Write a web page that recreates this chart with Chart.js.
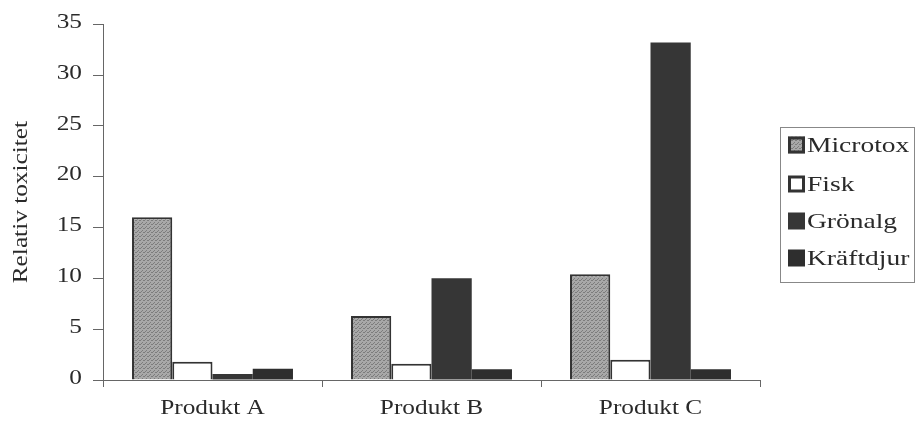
<!DOCTYPE html>
<html><head><meta charset="utf-8">
<script src="https://cdn.jsdelivr.net/npm/chart.js@4.4.0/dist/chart.umd.min.js"></script>
<style>html,body{margin:0;padding:0;background:#fff;}#wrap{width:915px;height:422px;}</style>
</head><body><div id="wrap"><canvas id="c" width="915" height="422"></canvas></div>
<script>
const categories = ["Produkt A", "Produkt B", "Produkt C"];
const microtox = [16.0, 6.3, 10.4];
const fisk = [1.8, 1.6, 2.0];
const gronalg = [0.6, 10.0, 33.2];
const kraftdjur = [1.1, 1.05, 1.05];
const seriesNames = ["Microtox", "Fisk", "Grönalg", "Kräftdjur"];
const yTicks = [0, 5, 10, 15, 20, 25, 30, 35];

const FONT = "'Liberation Serif', 'Times New Roman', serif";
const canvas = document.getElementById('c');
const ctx0 = canvas.getContext('2d');

// widen text horizontally like the reference typeface
let SX = 1.15;
const origFill = ctx0.fillText;
ctx0.fillText = function (t, x, y) {
  this.save();
  this.translate(x, y);
  this.scale(SX, 1);
  origFill.call(this, t, 0, 0);
  this.restore();
};

function stipple() {
  const p = document.createElement('canvas');
  p.width = 4; p.height = 4;
  const g = p.getContext('2d');
  g.fillStyle = '#a8a8a8'; g.fillRect(0, 0, 4, 4);
  g.fillStyle = '#7c7c7c';
  g.fillRect(0, 0, 1, 1); g.fillRect(2, 2, 1, 1); g.fillRect(3, 0, 1, 1); g.fillRect(1, 3, 1, 1);
  return ctx0.createPattern(p, 'repeat');
}
const pat = stipple();

const styles = [
  {bg: pat, border: '#333333', bw: 2},
  {bg: '#ffffff', border: '#333333', bw: 2},
  {bg: '#363636', border: '#363636', bw: 0},
  {bg: '#2e2e2e', border: '#2e2e2e', bw: 0}
];
const values = [microtox, fisk, gronalg, kraftdjur];

const legendPlugin = {
  id: 'boxLegend',
  afterDraw(chart) {
    const ctx = chart.ctx;
    const x0 = 780, y0 = 127, w = 134, h = 155;
    ctx.save();
    ctx.strokeStyle = '#888'; ctx.lineWidth = 1;
    ctx.strokeRect(x0 + 0.5, y0 + 0.5, w, h);
    ctx.font = "22px " + FONT;
    ctx.textBaseline = 'middle';
    ctx.textAlign = 'left';
    const ys = [145, 184, 221, 258];
    SX = 1.25;
    chart.data.datasets.forEach((ds, i) => {
      const y = ys[i];
      const s = 17;
      ctx.fillStyle = ds.backgroundColor;
      ctx.fillRect(788, y - s / 2, s, s);
      if (ds.borderWidth) {
        ctx.strokeStyle = ds.borderColor; ctx.lineWidth = 3;
        ctx.strokeRect(789.5, y - s / 2 + 1.5, s - 3, s - 3);
      }
      ctx.fillStyle = '#2a2a2a';
      ctx.fillText(ds.label, 807, y + 1);
    });
    SX = 1.15;
    ctx.restore();
  }
};

new Chart(canvas, {
  type: 'bar',
  data: {
    labels: categories,
    datasets: seriesNames.map((n, i) => ({
      label: n,
      data: values[i],
      backgroundColor: styles[i].bg,
      borderColor: styles[i].border,
      borderWidth: styles[i].bw,
      borderSkipped: 'bottom',
      categoryPercentage: 0.735,
      barPercentage: 1.0
    }))
  },
  options: {
    responsive: false,
    animation: false,
    layout: {padding: {top: 20, right: 155, bottom: 0, left: 0}},
    plugins: {legend: {display: false}, tooltip: {enabled: false}},
    scales: {
      x: {
        grid: {display: true, drawOnChartArea: false, drawTicks: true, tickLength: 7, color: '#666'},
        border: {display: true, color: '#666', width: 1},
        ticks: {color: '#2a2a2a', font: {family: FONT, size: 22}, padding: 8},
        afterFit(s) { s.height = 42; }
      },
      y: {
        min: 0, max: 35,
        afterBuildTicks(s) { s.ticks = yTicks.map(v => ({value: v})); },
        grid: {display: true, drawOnChartArea: false, drawTicks: true, tickLength: 10, color: '#666'},
        border: {display: true, color: '#666', width: 1},
        ticks: {color: '#2a2a2a', font: {family: FONT, size: 22}, padding: 11, labelOffset: -2},
        title: {display: true, text: 'Relativ toxicitet', color: '#2a2a2a', font: {family: FONT, size: 22}, padding: {top: 8, bottom: 0}},
        afterFit(s) { s.width = 103; }
      }
    }
  },
  plugins: [legendPlugin]
});
</script>
</body></html>
